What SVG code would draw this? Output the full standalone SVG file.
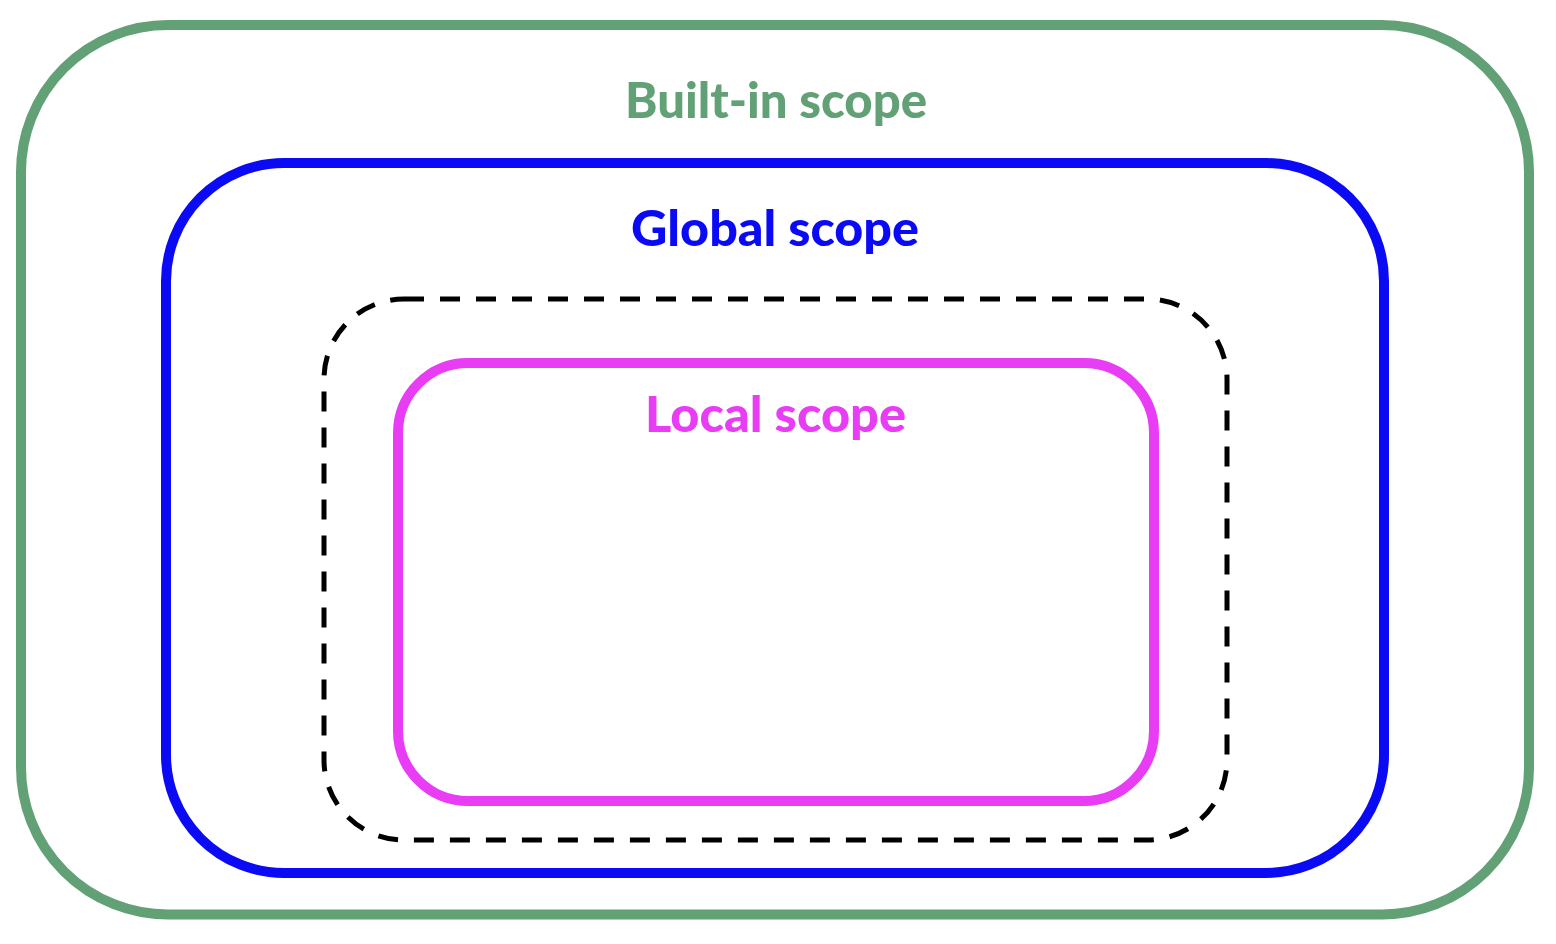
<svg xmlns="http://www.w3.org/2000/svg" width="1556" height="944" viewBox="0 0 1556 944">
<style>
  .box { fill: none; }
  .lbl { font-family: "Lato", "Inter", "Liberation Sans", sans-serif; font-weight: 900; font-size: 49px; text-anchor: middle; }
</style>
<rect width="1556" height="944" fill="#ffffff"/>
<g id="builtin">
  <rect class="box" x="21" y="25" width="1508" height="889.5" rx="147" ry="147" stroke="#62A075" stroke-width="10"/>
  <text class="lbl" x="776" y="118" fill="#62A075" textLength="302" lengthAdjust="spacingAndGlyphs">Built-in scope</text>
</g>
<g id="global">
  <rect class="box" x="166" y="163" width="1218" height="710" rx="118" ry="118" stroke="#0A0AF5" stroke-width="10"/>
  <text class="lbl" x="775" y="246" fill="#0A0AF5" textLength="288" lengthAdjust="spacingAndGlyphs">Global scope</text>
</g>
<g id="enclosing">
  <rect class="box" x="324" y="299" width="903" height="541" rx="80" ry="80" stroke="#000000" stroke-width="5" stroke-dasharray="20 16"/>
</g>
<g id="local">
  <rect class="box" x="398" y="363" width="756" height="438" rx="70" ry="70" stroke="#E83CF5" stroke-width="10"/>
  <text class="lbl" x="775.5" y="432" fill="#E83CF5" textLength="261" lengthAdjust="spacingAndGlyphs">Local scope</text>
</g>
<g id="connectors"></g>
</svg>
